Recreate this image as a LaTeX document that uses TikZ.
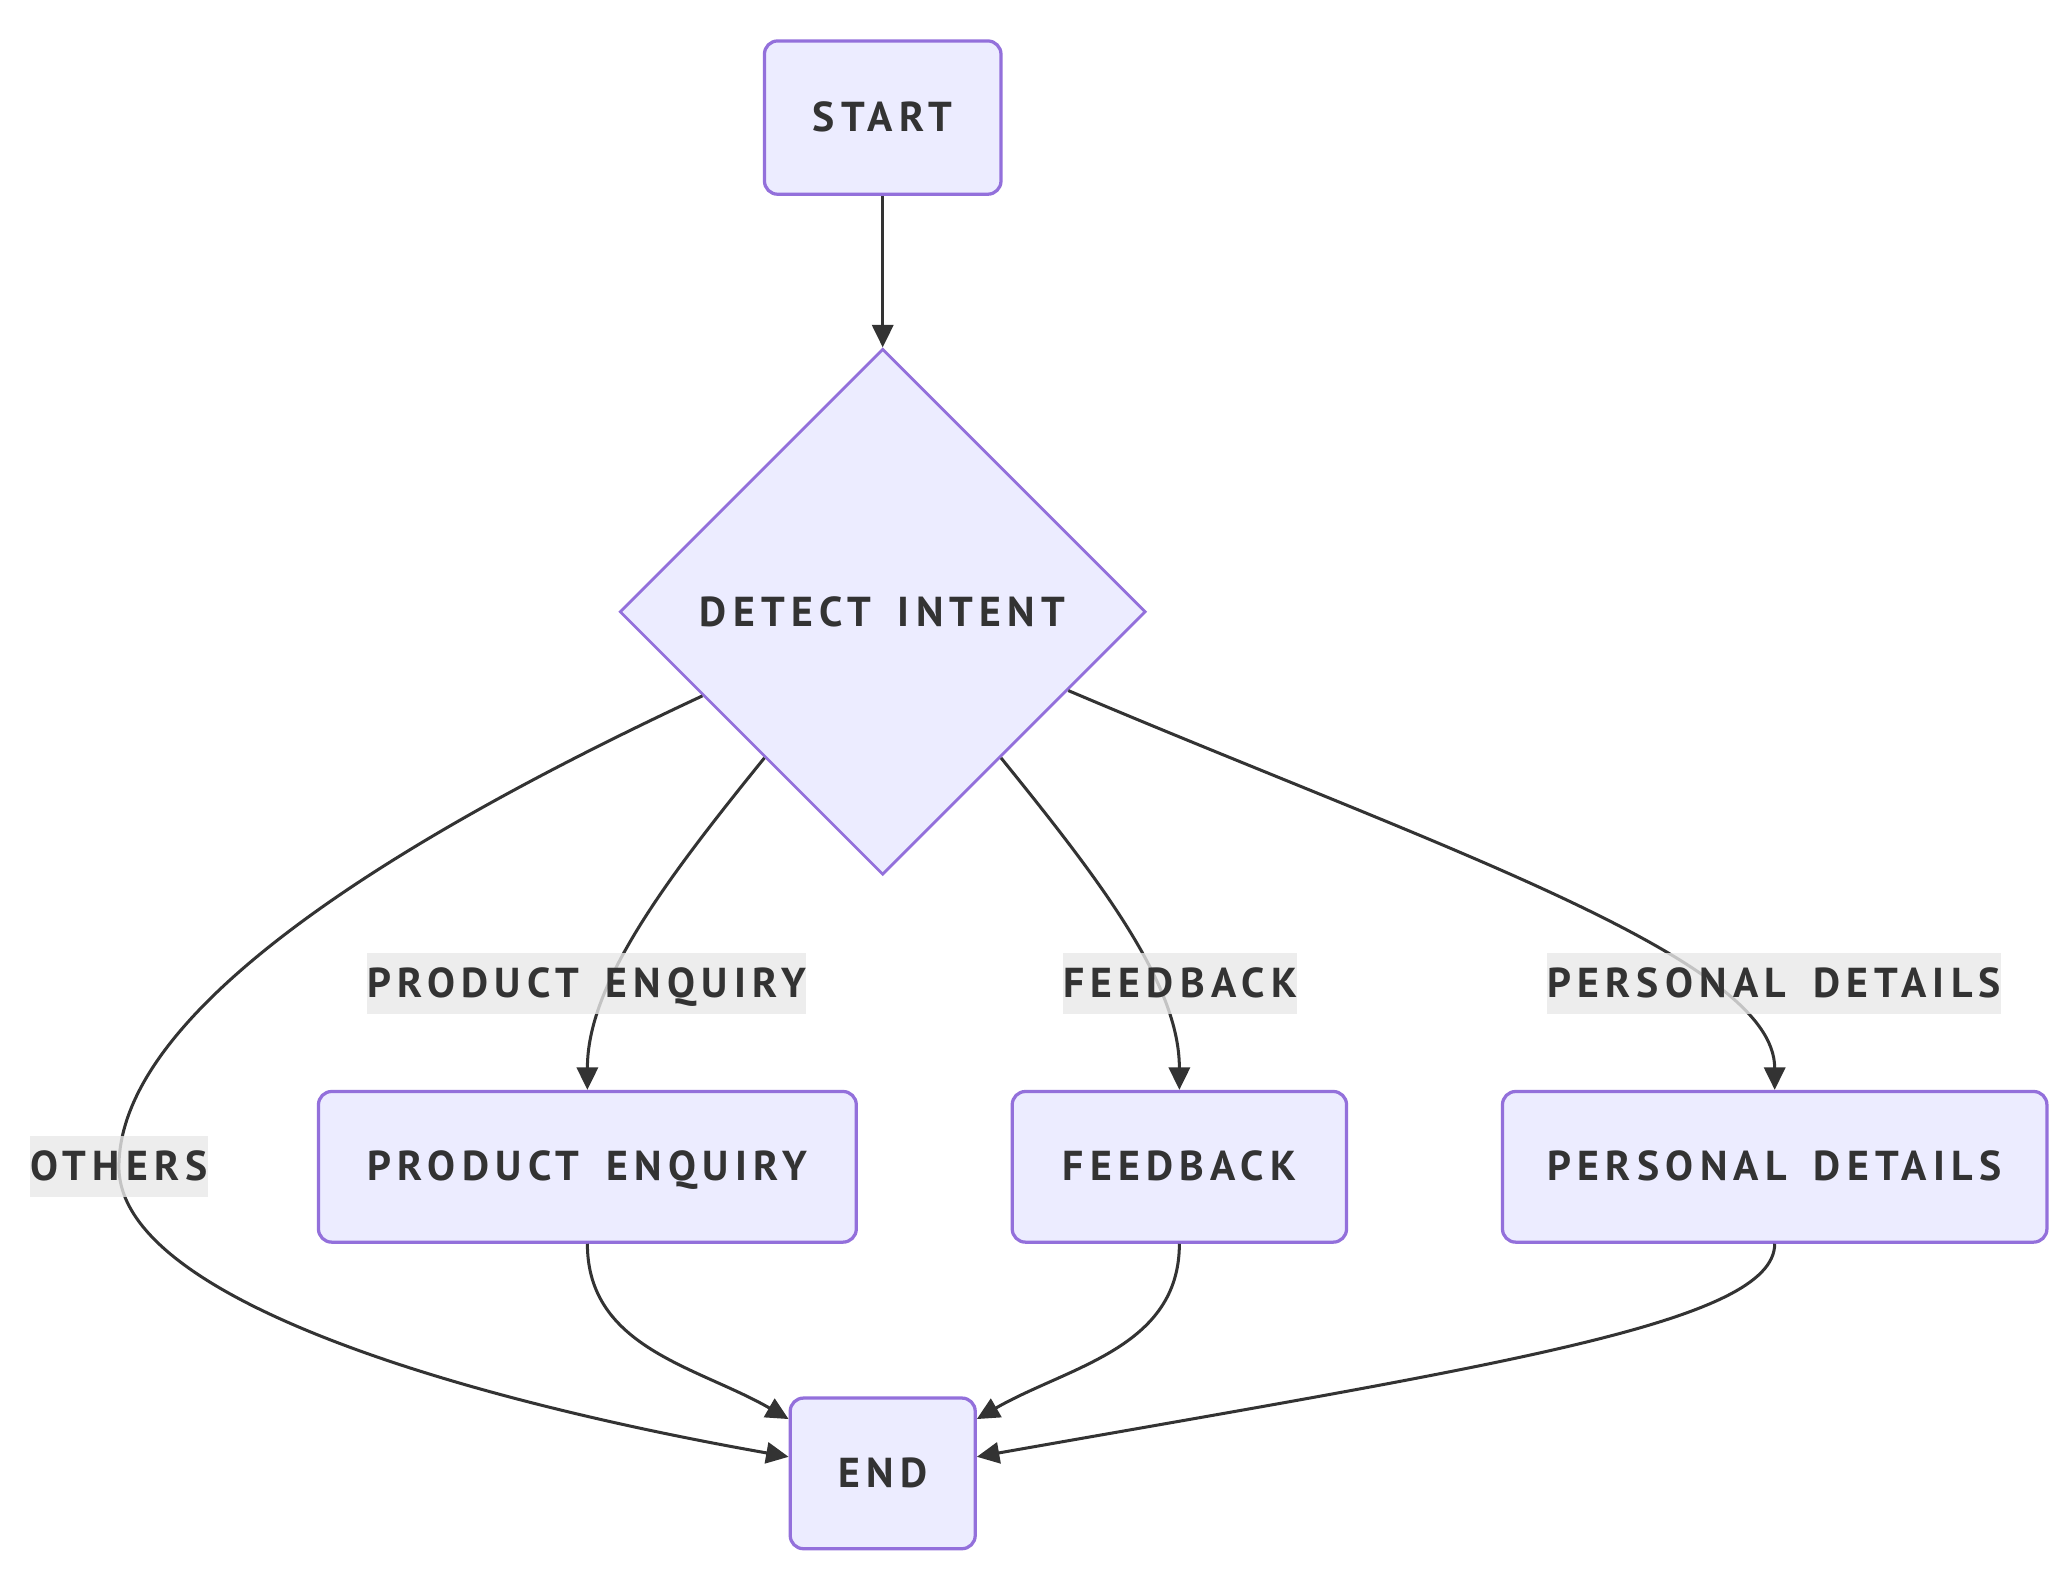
\documentclass[tikz,border=0pt]{standalone}
\usepackage{fontspec}
\newfontfamily\chartfont{PT Sans}[LetterSpace=15, WordSpace=1.6]
\usetikzlibrary{arrows.meta, shapes.geometric, positioning}
\definecolor{boxfill}{HTML}{ECECFF}
\definecolor{boxline}{HTML}{9370DB}
\definecolor{ink}{HTML}{333333}
\definecolor{tagfill}{HTML}{E8E8E8}
\newcommand{\chartsize}{\chartfont\bfseries\fontsize{9}{10}\selectfont}

\begin{document}
\begin{tikzpicture}[>={Triangle[length=0.17cm,width=0.16cm]},
  box/.style={draw=boxline, fill=boxfill, line width=0.7pt, rounded corners=0.1cm,
    minimum height=1.14cm, text=ink, font=\chartsize, text height=1.6ex, text depth=0.2ex},
  choice/.style={draw=boxline, fill=boxfill, line width=0.6pt, shape=diamond, aspect=1,
    minimum width=3.98cm, minimum height=3.98cm, inner sep=0pt, text=ink, font=\chartsize},
  tag/.style={fill=tagfill, fill opacity=0.8, text opacity=1, text=ink, inner xsep=0pt,
    inner ysep=0pt, minimum height=0.46cm, font=\chartsize, text height=1.6ex, text depth=0.2ex},
  flow/.style={->, draw=ink, line width=0.65pt}]
\useasboundingbox (0,0) rectangle (15.68,-12.05);

\node[box, minimum width=1.79cm, minimum height=1.16cm] at (6.68,-0.89) (start) {START};
\node[choice] at (6.68,-4.63) (detect) {DETECT INTENT};
\node[box, minimum width=4.07cm] at (4.445,-8.83) (enq) {PRODUCT ENQUIRY};
\node[box, minimum width=2.53cm] at (8.925,-8.83) (fb) {FEEDBACK};
\node[box, minimum width=4.12cm] at (13.43,-8.83) (pd) {PERSONAL DETAILS};
\node[box, minimum width=1.40cm] at (6.68,-11.15) (end) {END};
\coordinate (others) at (0.90,-8.83);

\draw [flow] (start) to (detect);
\draw [flow] (detect) to[out=-129,in=90,out distance=1.2cm,in distance=0.8cm] (enq);
\draw [flow] (detect) to[out=-51,in=90,out distance=1.2cm,in distance=0.8cm] (fb);
\draw [flow] (detect) to[out=-23,in=90,out distance=3cm,in distance=1cm] (pd);
\draw [flow] (detect) to[out=-155,in=90,out distance=2.5cm,in distance=1.2cm] (others)
  to[out=-90,in=170,out distance=1cm,in distance=2.5cm] (end);

\draw [flow] (enq) to[out=-90,in=150] (end);
\draw [flow] (fb) to[out=-90,in=30] (end);
\draw [flow] (pd) to[out=-90,in=10,out distance=0.6cm,in distance=4cm] (end);

% edge labels
\node[tag] at (4.44,-7.44) (tagenq) {PRODUCT ENQUIRY};
\node[tag] at (8.93,-7.44) (tagfb) {FEEDBACK};
\node[tag] at (13.425,-7.44) (tagpd) {PERSONAL DETAILS};
\node[tag] at (others) (tagothers) {OTHERS};
\end{tikzpicture}
\end{document}
